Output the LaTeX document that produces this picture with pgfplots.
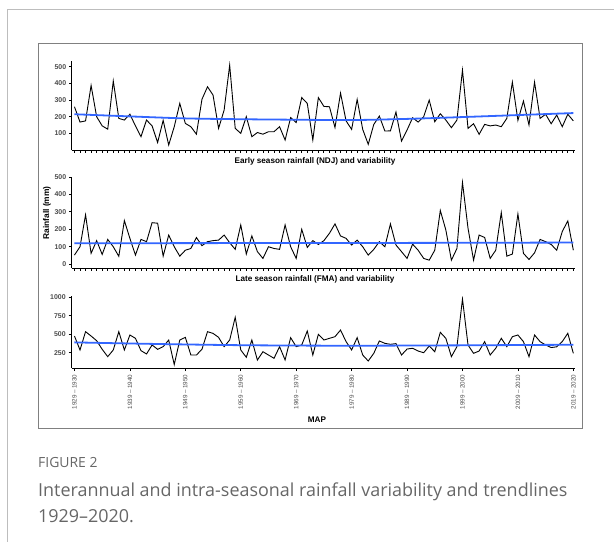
\documentclass[border=0pt]{standalone}
\usepackage{pgfplots}
\pgfplotsset{compat=1.18}
\usepackage{pgfplotstable}
\usepackage{fontspec}
\setmainfont{Liberation Sans}
\newfontfamily\capfont{Open Sans}

\definecolor{trendBlue}{HTML}{3366FF}
\definecolor{tickGrey}{HTML}{4D4D4D}
\definecolor{frameGrey}{HTML}{BDBDBD}
\definecolor{boxGrey}{HTML}{808080}
\definecolor{capGrey}{HTML}{666666}

% seasonal rainfall (mm), season starting year
\pgfplotstableread{
year ndj fma map
1929 260 52 476
1930 168 100 287
1931 175 283 535
1932 388 62 476
1933 200 135 413
1934 145 56 296
1935 125 142 197
1936 415 100 287
1937 190 45 535
1938 180 250 287
1939 215 148 490
1940 145 52 445
1941 80 142 278
1942 180 129 233
1943 145 238 355
1944 45 235 296
1945 178 46 332
1946 30 167 422
1947 140 100 90
1948 280 46 422
1949 160 80 458
1950 140 90 219
1951 95 153 219
1952 305 106 296
1953 380 129 535
1954 330 135 512
1955 130 138 458
1956 240 167 332
1957 510 123 422
1958 130 85 729
1959 100 225 287
1960 200 58 188
1961 80 162 422
1962 105 72 151
1963 95 33 264
1964 110 100 219
1965 110 90 174
1966 140 85 332
1967 60 225 152
1968 195 100 454
1969 165 33 332
1970 315 200 355
1971 280 96 544
1972 60 135 219
1973 315 113 499
1974 262 135 422
1975 260 177 445
1976 135 231 467
1977 342 162 557
1978 175 148 400
1979 124 110 287
1980 304 138 454
1981 124 100 219
1982 34 52 138
1983 154 85 242
1984 204 129 409
1985 114 100 377
1986 115 231 364
1987 228 110 373
1988 54 72 219
1989 120 33 300
1990 194 115 310
1991 168 80 273
1992 200 33 250
1993 300 23 341
1994 170 80 264
1995 218 308 526
1996 180 196 445
1997 134 23 197
1998 180 90 332
1999 480 469 977
2000 130 206 355
2001 158 23 242
2002 94 167 273
2003 154 153 400
2004 145 33 219
2005 150 80 310
2006 140 296 445
2007 190 46 332
2008 408 58 467
2009 178 288 490
2010 294 62 400
2011 150 27 196
2012 408 65 490
2013 190 142 400
2014 215 129 355
2015 158 113 320
2016 210 80 330
2017 140 187 400
2018 215 248 513
2019 175 80 242
}\rain

\pgfplotsset{
  panel/.style={
    scale only axis, width=503.3bp, anchor=north west,
    xmin=1928.5, xmax=2019.3,
    axis x line*=bottom, axis y line*=left,
    axis line style={black, line width=1bp},
    tick align=outside, major tick length=2.5bp,
    tick style={black, line width=0.8bp},
    every tick label/.append style={font=\bfseries\fontsize{7}{8}\selectfont, text=tickGrey},
    /pgf/number format/assume math mode=true,
    /pgf/number format/1000 sep={},
    yticklabel style={xshift=0.5bp},
    xtick={1929,...,2019}, xticklabels={},
  },
  rainline/.style={black, line width=0.9bp, no markers},
  trend/.style={trendBlue, line width=1.8bp, smooth, no markers},
}
\tikzset{heading/.style={font=\bfseries\fontsize{8.2}{9}\selectfont}}

\begin{document}
\begin{tikzpicture}
\path[use as bounding box] (0,0) rectangle (614bp,-542bp);
\draw[frameGrey, line width=1bp] (7bp,-542bp) -- (7bp,-9bp) -- (614bp,-9bp);
\draw[boxGrey, line width=0.8bp] (38bp,-43bp) rectangle (582bp,-428bp);

% early season
\begin{axis}[panel, at={(71.7bp,-61bp)}, height=89bp,
  ymin=0, ymax=535, ytick={100,200,300,400,500}]
  \addplot[rainline] table[x=year, y=ndj] {\rain};
  \addplot[trend] coordinates {(1929,215)(1939,202)(1949,190)(1959,185)(1969,182)(1979,180)(1989,187)(1999,198)(2009,210)(2019,222)};
\end{axis}
\node[heading] at (315bp,-161bp) {Early season rainfall (NDJ) and variability};

% late season
\begin{axis}[panel, at={(71.7bp,-177bp)}, height=91bp,
  ymin=-22, ymax=500, ytick={0,100,200,300,400,500}]
  \addplot[rainline] table[x=year, y=fma] {\rain};
  \addplot[trend] coordinates {(1929,120)(1959,121)(1989,122)(2019,124)};
\end{axis}
\node[heading] at (315bp,-279bp) {Late season rainfall (FMA) and variability};
\node[rotate=90, font=\bfseries\fontsize{8.4}{9}\selectfont] at (47bp,-213bp) {Rainfall (mm)};

% annual
\begin{axis}[panel, at={(71.7bp,-296bp)}, height=72bp,
  ymin=43, ymax=1018, ytick={250,500,750,1000},
  xtick={1929,1939,...,2019},
  xticklabels={1929 – 1930,1939 – 1940,1949 – 1950,1959 – 1960,1969 – 1970,1979 – 1980,1989 – 1990,1999 – 2000,2009 – 2010,2019 – 2020},
  xticklabel style={rotate=90, anchor=east, font=\fontsize{6.3}{7}\selectfont, text=tickGrey},
  major tick length=3bp]
  \addplot[rainline] table[x=year, y=map] {\rain};
  \addplot[trend] coordinates {(1929,390)(1939,375)(1949,362)(1959,352)(1969,347)(1979,345)(1989,347)(1999,350)(2009,354)(2019,358)};
\end{axis}
\node[heading] at (317bp,-420bp) {MAP};

\node[anchor=west, text=capGrey, font=\capfont\fontsize{14}{15}\selectfont, inner sep=0pt] at (38bp,-463bp) {FIGURE 2};
\node[anchor=west, text=capGrey, font=\capfont\fontsize{18}{20}\selectfont, inner sep=0pt] at (38bp,-492bp) {Interannual and intra-seasonal rainfall variability and trendlines};
\node[anchor=west, text=capGrey, font=\capfont\fontsize{18}{20}\selectfont, inner sep=0pt] at (38bp,-516bp) {1929–2020.};
\end{tikzpicture}
\end{document}
